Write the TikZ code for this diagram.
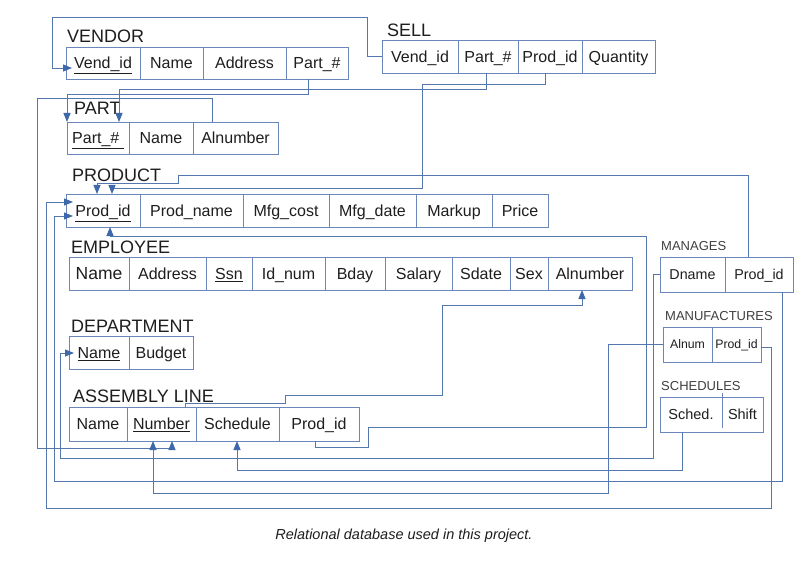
\documentclass[tikz,border=0pt]{standalone}
\usepackage{fontspec}
\setmainfont{Liberation Sans}
\usetikzlibrary{calc,arrows.meta}
\definecolor{boxc}{HTML}{6A87BB}
\definecolor{linec}{HTML}{5577B0}
\definecolor{tipc}{HTML}{3D68AA}
\definecolor{txtc}{HTML}{1E1E1E}
\newcommand{\mkcell}[6]{\node[cellbox, minimum width=#4pt, minimum height=#5pt] (#1) at (#2,#3) {#6};}
\begin{document}
\begin{tikzpicture}[x=1pt,y=-1pt,
 cellbox/.style={draw=boxc, line width=0.9pt, inner sep=0pt, outer sep=0pt, anchor=north west, text=txtc,
   font=\fontsize{16}{18}\selectfont, text height=11.5pt, text depth=0pt},
 tlabel/.style={anchor=base west, inner sep=0pt, text=txtc, font=\fontsize{18}{20}\selectfont},
 slabel/.style={anchor=base west, inner sep=0pt, text=txtc!85, font=\fontsize{13}{15}\selectfont},
 conn/.style={draw=linec, line width=0.9pt},
 arr/.style={conn, -{Triangle[length=9pt,width=7pt,color=tipc]}}
]
\fill[white] (0,0) rectangle (805,564);
\useasboundingbox (0,0) rectangle (805,564);

% VENDOR
\node[tlabel] (lV) at (67,43) {VENDOR};
\mkcell{vV1}{66}{47}{74}{32}{\underline{Vend\_id}}
\mkcell{vV2}{140}{47}{63}{32}{Name}
\mkcell{vV3}{203}{47}{83}{32}{Address}
\mkcell{vV4}{286}{47}{62}{32}{Part\_\#}

% SELL
\node[tlabel] (lS) at (387,37) {SELL};
\mkcell{sV}{382}{40}{76}{33}{Vend\_id}
\mkcell{sP}{458}{40}{60}{33}{Part\_\#}
\mkcell{sPr}{518}{40}{64}{33}{Prod\_id}
\mkcell{sQ}{582}{40}{73}{33}{Quantity}

% PART
\node[tlabel] (lP) at (74,115) {PART};
\mkcell{pP}{67}{122}{62}{32}{\underline{Part\_\#\ }}
\mkcell{pN}{129}{122}{64}{32}{Name}
\mkcell{pA}{193}{122}{85}{32}{Alnumber}

% PRODUCT
\node[tlabel] (lPr) at (72,182) {PRODUCT};
\mkcell{prP}{66}{194}{74}{33}{\underline{Prod\_id}}
\mkcell{prN}{140}{194}{103}{33}{Prod\_name}
\mkcell{prC}{243}{194}{86}{33}{Mfg\_cost}
\mkcell{prD}{329}{194}{87}{33}{Mfg\_date}
\mkcell{prM}{416}{194}{76}{33}{Markup}
\mkcell{prPr}{492}{194}{56}{33}{Price}

% EMPLOYEE
\node[tlabel] (lE) at (71,253) {EMPLOYEE};
\begin{scope}[cellbox/.append style={font=\fontsize{17.5}{19}\selectfont, text height=12.6pt}]
\mkcell{eN}{69}{257}{60}{33}{Name}
\end{scope}
\mkcell{eAd}{129}{257}{77}{33}{Address}
\mkcell{eS}{206}{257}{46}{33}{\underline{Ssn}}
\mkcell{eI}{252}{257}{73}{33}{Id\_num}
\mkcell{eB}{325}{257}{60}{33}{Bday}
\mkcell{eSa}{385}{257}{67}{33}{Salary}
\mkcell{eSd}{452}{257}{58}{33}{Sdate}
\mkcell{eSx}{510}{257}{38}{33}{Sex}
\mkcell{eA}{548}{257}{84}{33}{Alnumber}

% DEPARTMENT
\node[tlabel] (lD) at (71,332) {DEPARTMENT};
\mkcell{dN}{69}{336}{60}{33}{\underline{Name}}
\mkcell{dB}{129}{336}{64}{33}{Budget}

% ASSEMBLY LINE
\node[tlabel] (lA) at (73,402) {ASSEMBLY LINE};
\mkcell{aNm}{69}{407}{58}{34}{Name}
\mkcell{aN}{127}{407}{69}{34}{\underline{Number}}
\mkcell{aS}{196}{407}{83}{34}{Schedule}
\mkcell{aP}{279}{407}{80}{34}{Prod\_id}

% MANAGES
\node[slabel] (lM) at (661,250) {MANAGES};
\begin{scope}[cellbox/.append style={font=\fontsize{14.3}{16}\selectfont, text height=10.3pt}]
\mkcell{mD}{660}{257}{65}{35}{Dname}
\mkcell{mP}{725}{257}{68}{35}{Prod\_id}
\end{scope}

% MANUFACTURES
\node[slabel] (lMf) at (665,320) {MANUFACTURES};
\begin{scope}[cellbox/.append style={font=\fontsize{12.3}{14}\selectfont, text height=8.9pt}]
\mkcell{mfA}{663}{327}{49}{35}{Alnum}
\mkcell{mfP}{712}{327}{49}{35}{Prod\_id}
\end{scope}

% SCHEDULES
\node[slabel] (lSc) at (661,390) {SCHEDULES};
\begin{scope}[cellbox/.append style={draw=none, font=\fontsize{14.5}{16}\selectfont, text height=10.4pt}]
\mkcell{scS}{660}{397}{62}{35}{Sched.}
\mkcell{scH}{722}{397}{41}{35}{Shift}
\end{scope}
\draw[draw=boxc, line width=0.9pt] (scS.north west) rectangle (scH.south east);
\draw[draw=boxc, line width=0.9pt] ($(scS.north east)+(0,-4)$) -- ($(scS.south east)+(0,-4)$);

% connectors
\draw[arr] (sV.west) -- (367,56.5) -- (367,17) -- (52,17) -- (52,68) -- ($(vV1.west)+(6,5)$);
\draw[arr] ($(vV4.south)+(-9,0)$) -- (308,94) -- (67,94) -- (pP.north west);
\draw[arr] ($(sP.south)+(-2,0)$) -- (486,89) -- (119,89) -- ($(pP.north)+(21,0)$);
\draw[arr] ($(pA.north)+(-23.5,0)$) -- (212,98) -- (37,98) -- (37,448) -- (172,448) -- ($(aN.south)+(10.5,0)$);
\draw[arr] ($(sPr.south)+(-5,0)$) -- (545,84) -- (422,84) -- (422,188) -- (112,188) -- ($(prP.north)+(9,0)$);
\draw[arr] ($(mP.north)+(-11,0)$) -- (748,175) -- (178,175) -- (178,183) -- (97,183) -- ($(prP.north)+(-6,0)$);
\draw[arr] ($(aP.south)+(-4,0)$) -- (315,447) -- (368,447) -- (368,427) -- (646,427) -- (646,236) -- (110,236) -- ($(prP.south)+(7,0)$);
\draw[arr] ($(aN.north)+(23.5,0)$) -- (185,403) -- (285,403) -- (285,395) -- (442,395) -- (442,305) -- (582,305) -- ($(eA.south)+(-8,0)$);
\draw[arr] (mD.west) -- (653,274.5) -- (653,458) -- (60,458) -- (60,353) -- ($(dN.west)+(5,0.5)$);
\draw[arr] ($(scS.south)+(-9,0)$) -- (682,470) -- (237,470) -- ($(aS.south)+(-0.5,0)$);
\draw[arr] ($(mP.south)+(23,0)$) -- (782,481) -- (54,481) -- (54,216) -- ($(prP.west)+(7,5.5)$);
\draw[arr] (mfA.west) -- (608,344.5) -- (608,493) -- (153,493) -- ($(aN.south)+(-8.5,0)$);
\draw[arr] ($(mfP.east)+(0,2.5)$) -- (771,347) -- (771,508) -- (46,508) -- (46,202) -- ($(prP.west)+(7,-8.5)$);

% caption
\node[anchor=base, inner sep=0pt, text=txtc, font=\fontsize{14.5}{17}\selectfont\itshape] (cap) at (404,539) {Relational database used in this project.};
\end{tikzpicture}
\end{document}
